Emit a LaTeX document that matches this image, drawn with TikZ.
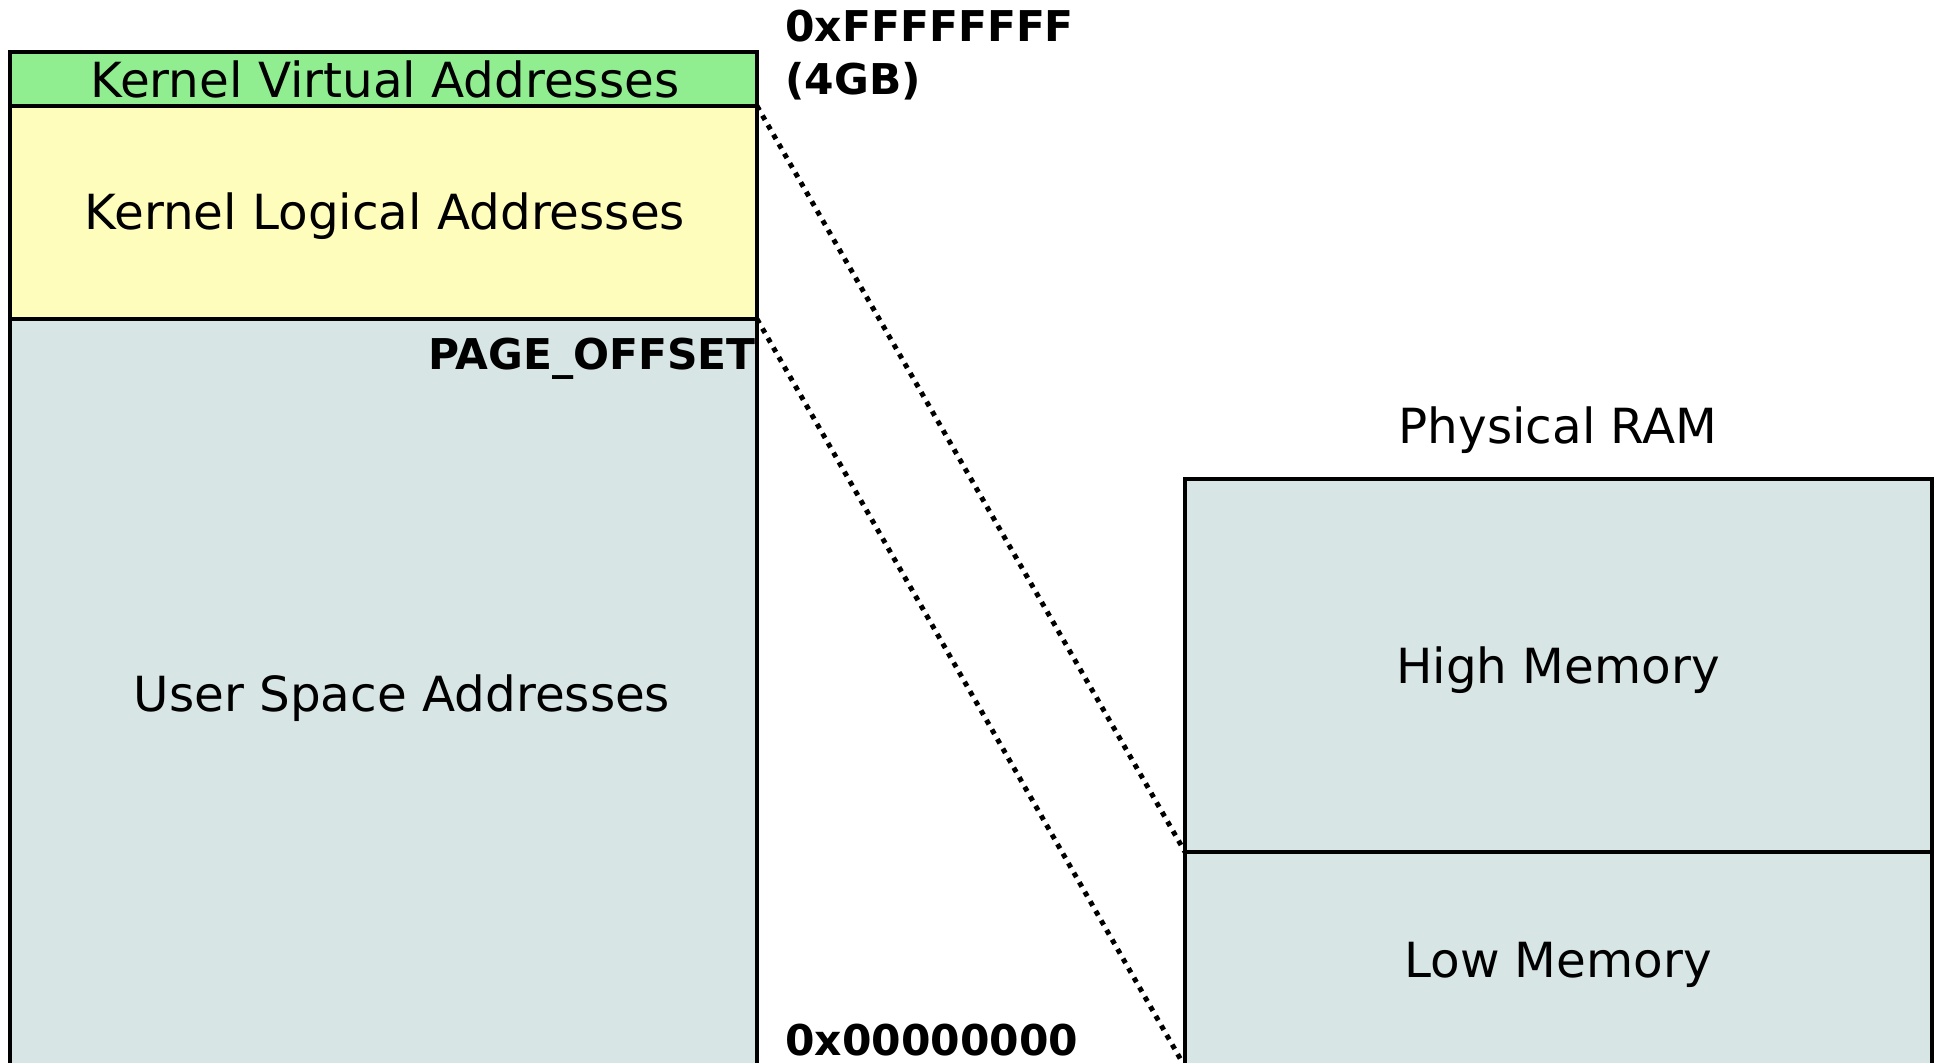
\documentclass[tikz,border=0pt]{standalone}
\usepackage{fontspec}
\setmainfont{DejaVu Sans}
\begin{document}
\begin{tikzpicture}[x=0.5pt,y=-0.5pt,
  region/.style={draw=black,line width=2.4pt,inner sep=0pt,outer sep=0pt,anchor=north west},
  lbl/.style={font=\fontsize{24.2}{28}\selectfont,inner sep=0pt,anchor=base},
  addr/.style={font=\fontsize{21.2}{25}\selectfont\bfseries,inner sep=0pt},
  dotline/.style={line width=2.5pt,dash pattern=on 2.5pt off 3pt}]
\useasboundingbox (0,0) rectangle (1939,1063);
\clip (0,0) rectangle (1939,1063);
\definecolor{kvgreen}{RGB}{144,238,144}
\definecolor{klyellow}{RGB}{255,253,187}
\definecolor{memgray}{RGB}{216,229,229}
% left column
\node[region,fill=memgray,minimum width=373.5pt,minimum height=374pt] (user) at (10,319) {};
\node[region,fill=klyellow,minimum width=373.5pt,minimum height=106.5pt] (klog) at (10,106) {};
\node[region,fill=kvgreen,minimum width=373.5pt,minimum height=27pt] (kvirt) at (10,52) {};
% right column
\node[region,fill=memgray,minimum width=373.5pt,minimum height=107.5pt] (low) at (1185,852) {};
\node[region,fill=memgray,minimum width=373.5pt,minimum height=186.5pt] (high) at (1185,479) {};
% texts
\node[lbl] (tkv) at (385,97.5) {Kernel Virtual Addresses};
\node[lbl] (tkl) at (385,230) {Kernel Logical Addresses};
\node[lbl] (tus) at (402,711.5) {User Space Addresses};
\node[lbl] (tram) at (1558,443.5) {Physical RAM};
\node[lbl] (thi) at (1558,683.5) {High Memory};
\node[lbl] (tlo) at (1558,977.5) {Low Memory};
\node[addr,anchor=base east] (poff) at (756,369.5) {PAGE\_OFFSET};
\node[addr,anchor=base west] (ftop) at (785,41.5) {0xFFFFFFFF};
\node[addr,anchor=base west] (fgb) at (785,94.5) {(4GB)};
\node[addr,anchor=base west] (fzero) at (785,1055.5) {0x00000000};
% mapping lines
\draw[dotline] (klog.north east) -- (high.south west);
\draw[dotline] (klog.south east) -- (low.south west);
\end{tikzpicture}
\end{document}
